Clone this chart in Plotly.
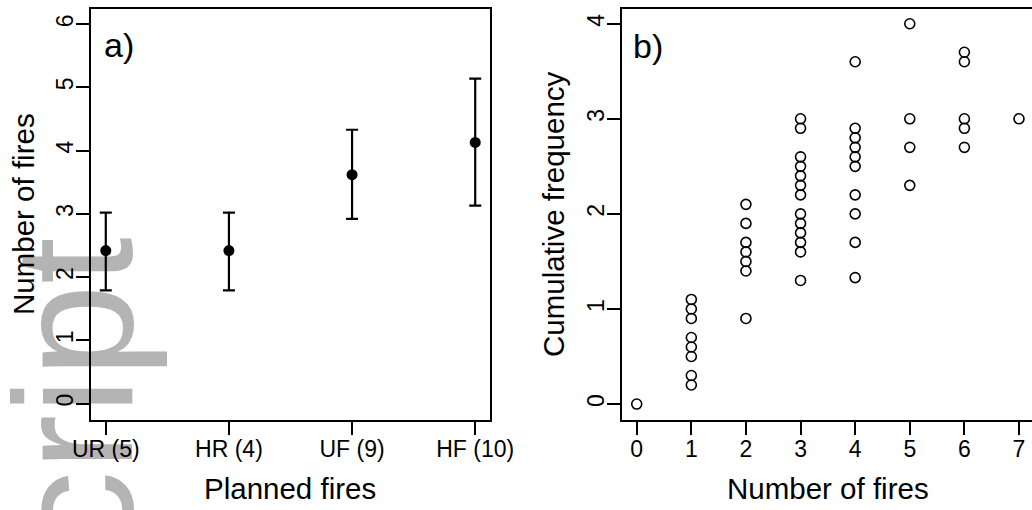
import plotly.graph_objects as go

# ---------------- data ----------------
# Panel a: planned fire treatments
categories = ["UR (5)", "HR (4)", "UF (9)", "HF (10)"]
mean_fires = [2.42, 2.42, 3.62, 4.13]
upper_fires = [3.02, 3.02, 4.33, 5.14]
lower_fires = [1.79, 1.79, 2.92, 3.13]

# Panel b: number of fires vs cumulative frequency
fires_0 = [0.0]
fires_1 = [1.1, 1.0, 0.9, 0.7, 0.6, 0.5, 0.3, 0.2]
fires_2 = [2.1, 1.9, 1.7, 1.6, 1.5, 1.4, 0.9]
fires_3 = [3.0, 2.9, 2.6, 2.5, 2.4, 2.3, 2.2, 2.0, 1.9, 1.8, 1.7, 1.6, 1.3]
fires_4 = [3.6, 2.9, 2.8, 2.7, 2.6, 2.5, 2.2, 2.0, 1.7, 1.33]
fires_5 = [4.0, 3.0, 2.7, 2.3]
fires_6 = [3.7, 3.6, 3.0, 2.9, 2.7]
fires_7 = [3.0]
freq_by_fires = [fires_0, fires_1, fires_2, fires_3, fires_4, fires_5, fires_6, fires_7]

ticks_a = [0, 1, 2, 3, 4, 5, 6]
ticks_b_x = [0, 1, 2, 3, 4, 5, 6, 7]
ticks_b_y = [0, 1, 2, 3, 4]

# ---------------- build ----------------
W, H = 1032, 510
FONT = "Liberation Sans, Arial, sans-serif"

def px_x(p):
    return p / W

def px_y(p):
    return 1 - p / H

err_plus = [u - m for u, m in zip(upper_fires, mean_fires)]
err_minus = [m - l for m, l in zip(mean_fires, lower_fires)]

fig = go.Figure()

fig.add_trace(go.Scatter(
    x=categories, y=mean_fires, mode="markers",
    marker=dict(color="black", size=11, symbol="circle"),
    error_y=dict(type="data", symmetric=False, array=err_plus, arrayminus=err_minus,
                 color="black", thickness=2.2, width=6),
    xaxis="x", yaxis="y", showlegend=False, cliponaxis=False,
))

bx, by = [], []
for xv, vals in zip(ticks_b_x, freq_by_fires):
    for v in vals:
        bx.append(xv)
        by.append(v)

fig.add_trace(go.Scatter(
    x=bx, y=by, mode="markers",
    marker=dict(symbol="circle-open", size=10, color="black", line=dict(width=1.6, color="black")),
    xaxis="x2", yaxis="y2", showlegend=False, cliponaxis=False,
))

axis_common = dict(
    showgrid=False, zeroline=False, showline=True, linecolor="black", linewidth=1.6,
    ticks="outside", ticklen=13, tickwidth=1.6, tickcolor="black", automargin=False,
    tickfont=dict(family=FONT, size=23, color="black"),
)

fig.update_layout(
    template="none",
    width=W, height=H,
    margin=dict(l=0, r=0, t=0, b=0, pad=0, autoexpand=False),
    paper_bgcolor="white", plot_bgcolor="rgba(0,0,0,0)",
    xaxis=dict(axis_common, domain=[px_x(91), px_x(490)], anchor="y",
               type="category", categoryorder="array", categoryarray=categories,
               range=[-0.12, 3.12], mirror=True, ticklabelstandoff=-5),
    yaxis=dict(axis_common, domain=[px_y(420), px_y(9)], anchor="x",
               range=[-0.26, 6.24], tickvals=ticks_a, tickangle=-90, mirror=True,
               ticklabelstandoff=-6),
    xaxis2=dict(axis_common, domain=[px_x(621.7), 1], anchor="y2",
                range=[-0.275, 7.238], tickvals=ticks_b_x, mirror=True, ticklabelstandoff=-5),
    yaxis2=dict(axis_common, domain=[px_y(420), px_y(9)], anchor="x2",
                range=[-0.168, 4.155], tickvals=ticks_b_y, tickangle=-90, mirror=False,
                ticklabelstandoff=-6),
)

title_font = dict(family=FONT, size=29.5, color="black")
annots = [
    dict(text="Number of fires", x=px_x(23), y=px_y(214), textangle=-90, font=title_font),
    dict(text="Planned fires", x=px_x(290), y=px_y(488), font=title_font),
    dict(text="Cumulative frequency", x=px_x(553), y=px_y(214), textangle=-90, font=title_font),
    dict(text="Number of fires", x=px_x(828), y=px_y(488), font=title_font),
]
for a in annots:
    fig.add_annotation(xref="paper", yref="paper", showarrow=False,
                       xanchor="center", yanchor="middle", **a)

panel_font = dict(family=FONT, size=34, color="black")
fig.add_annotation(text="a)", xref="paper", yref="paper", x=px_x(102), y=px_y(45),
                   xanchor="left", yanchor="middle", showarrow=False, font=panel_font)
fig.add_annotation(text="b)", xref="paper", yref="paper", x=px_x(631), y=px_y(46),
                   xanchor="left", yanchor="middle", showarrow=False, font=panel_font)

# grey "Manuscript" watermark fragment at left edge, drawn beneath everything
fig.add_shape(type="rect", xref="paper", yref="paper",
              x0=px_x(8), x1=px_x(108), y0=px_y(488), y1=px_y(388),
              line=dict(width=0), fillcolor="rgba(0,0,0,0)", layer="below",
              label=dict(text="script", textangle=-90, textposition="middle center",
                         font=dict(family=FONT, size=168, color="rgb(180,180,180)")))

fig.write_html("out.html", config={"displayModeBar": False},
               post_script="document.body.style.margin='0px';")
